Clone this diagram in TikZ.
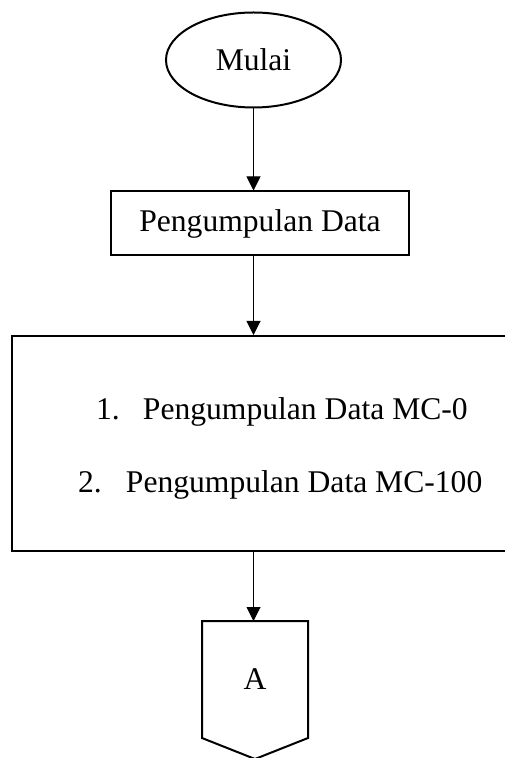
\documentclass[tikz,border=0pt]{standalone}
\usepackage{fontspec}
\setmainfont{Liberation Serif}
\usetikzlibrary{shapes.geometric,arrows.meta}
\begin{document}
\begin{tikzpicture}[x=0.5pt,y=-0.5pt,>={Triangle[length=7pt,width=7pt]}]
\tikzstyle{every node}=[font=\fontsize{15.8}{19}\selectfont,inner sep=0pt,line width=1pt]
\useasboundingbox (0,0) rectangle (504,758);
\node[draw,ellipse,minimum width=87.5pt,minimum height=47.5pt](mulai) at (253.5,60) {Mulai};
\node[draw,rectangle,minimum width=149pt,minimum height=32pt](pd) at (260,223.5) {Pengumpulan Data};
\node[draw,rectangle,minimum width=247pt,minimum height=107.5pt](pdmc) at (259,443.5) {};
\node[anchor=base west](mc0) at (95,419) {\makebox[23.5pt][l]{1.}Pengumpulan Data MC-0};
\node[anchor=base west](mc100) at (77,492) {\makebox[24pt][l]{2.}Pengumpulan Data MC-100};
\node[rectangle,minimum width=52pt,minimum height=57.5pt,anchor=north](a) at (255,621) {A};
\draw[line width=1pt] (a.north west) -- (a.north east) -- (a.south east)
  -- ([yshift=-10.5pt]a.south) -- (a.south west) -- cycle;
\draw[->,line width=0.5pt] (mulai.south) -- (mulai.south |- pd.north);
\draw[->,line width=0.5pt] (pd.south -| mulai.south) -- (pdmc.north -| mulai.south);
\draw[->,line width=0.5pt] (pdmc.south -| mulai.south) -- (a.north -| mulai.south);
\end{tikzpicture}
\end{document}
